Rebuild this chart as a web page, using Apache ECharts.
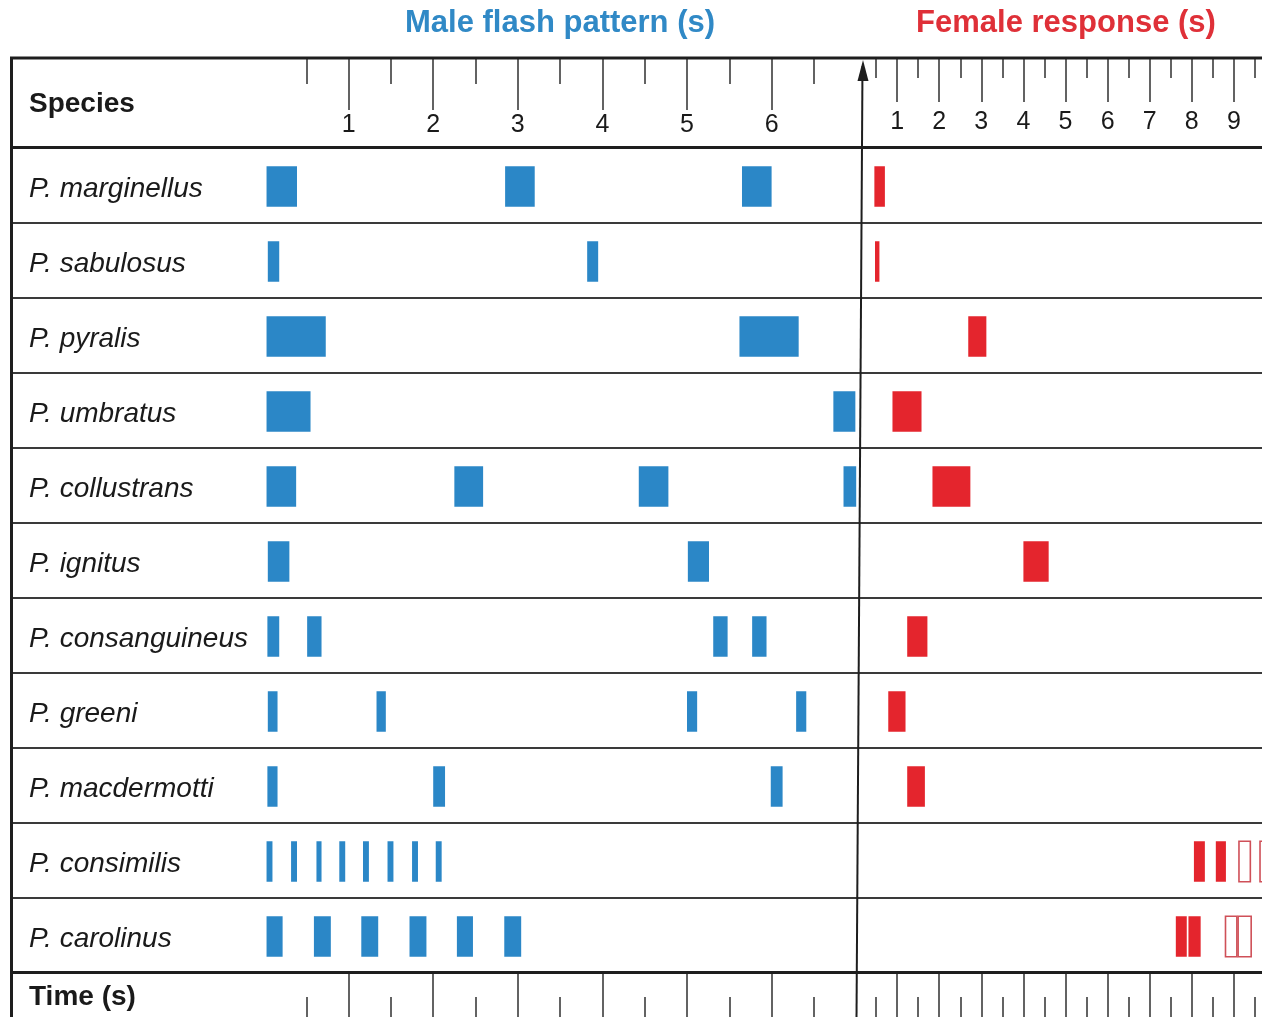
<!DOCTYPE html>
<html><head><meta charset="utf-8">
<script src="https://cdn.jsdelivr.net/npm/echarts@6/dist/echarts.min.js"></script>
<style>html,body{margin:0;padding:0;background:#fff}#c{width:1262px;height:1017px}</style>
</head><body><div id="c"></div>
<script>
// ---------- data (seconds) ----------
const species = ['P. marginellus','P. sabulosus','P. pyralis','P. umbratus','P. collustrans','P. ignitus','P. consanguineus','P. greeni','P. macdermotti','P. consimilis','P. carolinus'];

// male flashes: [species, start, end]
const maleFlashes = [
  ['P. marginellus',0.03,0.39],['P. marginellus',2.85,3.20],['P. marginellus',5.65,6.00],
  ['P. sabulosus',0.045,0.18],['P. sabulosus',3.82,3.95],
  ['P. pyralis',0.03,0.73],['P. pyralis',5.62,6.32],
  ['P. umbratus',0.03,0.55],['P. umbratus',6.73,6.99],
  ['P. collustrans',0.03,0.38],['P. collustrans',2.25,2.59],['P. collustrans',4.43,4.78],['P. collustrans',6.85,7.0],
  ['P. ignitus',0.045,0.30],['P. ignitus',5.01,5.26],
  ['P. consanguineus',0.04,0.18],['P. consanguineus',0.51,0.68],['P. consanguineus',5.31,5.48],['P. consanguineus',5.77,5.94],
  ['P. greeni',0.045,0.16],['P. greeni',1.33,1.44],['P. greeni',5.00,5.12],['P. greeni',6.29,6.41],
  ['P. macdermotti',0.04,0.16],['P. macdermotti',2.00,2.14],['P. macdermotti',5.99,6.13],
  ['P. consimilis',0.03,0.10],['P. consimilis',0.32,0.39],['P. consimilis',0.62,0.68],['P. consimilis',0.89,0.96],
  ['P. consimilis',1.17,1.24],['P. consimilis',1.46,1.53],['P. consimilis',1.75,1.82],['P. consimilis',2.03,2.10],
  ['P. carolinus',0.03,0.22],['P. carolinus',0.59,0.79],['P. carolinus',1.15,1.35],['P. carolinus',1.72,1.92],
  ['P. carolinus',2.28,2.47],['P. carolinus',2.84,3.04]
];

// female responses (solid)
const femaleFlashes = [
  ['P. marginellus',0.46,0.71],['P. sabulosus',0.475,0.58],['P. pyralis',2.69,3.12],
  ['P. umbratus',0.89,1.58],['P. collustrans',1.84,2.74],['P. ignitus',4.0,4.6],
  ['P. consanguineus',1.24,1.72],['P. greeni',0.79,1.20],['P. macdermotti',1.24,1.66],
  ['P. consimilis',8.05,8.31],['P. consimilis',8.57,8.81],
  ['P. carolinus',7.62,7.88],['P. carolinus',7.92,8.21]
];
// female responses (open)
const femaleOutline = [
  ['P. consimilis',9.12,9.39],['P. consimilis',9.62,9.90],
  ['P. carolinus',8.80,9.07],['P. carolinus',9.10,9.41]
];

const maleTickLabels = [1,2,3,4,5,6];
const maleHalfTicks = [0.5,1.5,2.5,3.5,4.5,5.5,6.5];
const femaleTickLabels = [1,2,3,4,5,6,7,8,9];
const femaleHalfTicks = [0.5,1.5,2.5,3.5,4.5,5.5,6.5,7.5,8.5,9.5];
const MALE_MAX = 7;
const FEMALE_MAX = 9.667;

// ---------- layout ----------
const FONT = 'Liberation Sans, Arial, Helvetica, sans-serif';
const BLUE = '#2b87c7', RED = '#e4252d', OUT = '#cf5058';
const M = {x:264, w:592.2}, F = {x:855, w:407};
const HEAD = {top:58, h:89.5}, BODY = {top:147.5, h:825}, FOOT = {top:972.5, h:44.5};

const grids = [
  {left:10, top:BODY.top, width:1252, height:BODY.h},          // 0 table rows
  {left:M.x, top:BODY.top, width:M.w, height:BODY.h},          // 1 male bars
  {left:F.x, top:BODY.top, width:F.w, height:BODY.h},          // 2 female bars
  {left:M.x, top:HEAD.top, width:M.w, height:HEAD.h},          // 3 male head major
  {left:M.x, top:HEAD.top, width:M.w, height:HEAD.h},          // 4 male head minor
  {left:F.x, top:HEAD.top, width:F.w, height:HEAD.h},          // 5 female head major
  {left:F.x, top:HEAD.top, width:F.w, height:HEAD.h},          // 6 female head minor
  {left:M.x, top:FOOT.top, width:M.w, height:FOOT.h},          // 7 male foot major
  {left:M.x, top:FOOT.top, width:M.w, height:FOOT.h},          // 8 male foot minor
  {left:F.x, top:FOOT.top, width:F.w, height:FOOT.h},          // 9 female foot major
  {left:F.x, top:FOOT.top, width:F.w, height:FOOT.h}           // 10 female foot minor
];

function hiddenX(gi, max){ return {gridIndex:gi, type:'value', min:0, max:max, show:false}; }
function tickX(gi, pos, max, ticks, len, labels, margin){
  return {
    gridIndex:gi, type:'value', position:pos, min:0, max:max,
    axisLine:{show:false, onZero:false}, splitLine:{show:false}, minorTick:{show:false},
    axisTick:{show:true, inside:true, length:len, customValues:ticks, lineStyle:{color:'#3c3c3c', width:1.6}},
    axisLabel: labels ? {show:true, inside:true, customValues:labels, margin:margin, fontSize:25, color:'#1a1a1a', fontFamily:FONT} : {show:false}
  };
}
const xAxes = [
  hiddenX(0, 1), hiddenX(1, MALE_MAX), hiddenX(2, FEMALE_MAX),
  tickX(3,'top',MALE_MAX,maleTickLabels,52,maleTickLabels,55),
  tickX(4,'top',MALE_MAX,maleHalfTicks,26,null),
  tickX(5,'top',FEMALE_MAX,femaleTickLabels,44,femaleTickLabels,52),
  tickX(6,'top',FEMALE_MAX,femaleHalfTicks,20,null),
  tickX(7,'bottom',MALE_MAX,maleTickLabels,45,null),
  tickX(8,'bottom',MALE_MAX,maleHalfTicks,20,null),
  tickX(9,'bottom',FEMALE_MAX,femaleTickLabels,45,null),
  tickX(10,'bottom',FEMALE_MAX,femaleHalfTicks,20,null)
];
const yAxes = [
  {gridIndex:0, type:'category', data:species, inverse:true,
   axisLine:{show:false}, axisTick:{show:false}, axisLabel:{show:false},
   splitLine:{show:true, interval:0, lineStyle:{color:'#3a3a3a', width:2.2}}},
  {gridIndex:1, type:'category', data:species, inverse:true,
   axisLine:{show:false}, axisTick:{show:false}, splitLine:{show:false},
   axisLabel:{show:true, interval:0, align:'left', margin:M.x-29,
     formatter:'{s|{value}}',
     rich:{s:{fontSize:28, fontStyle:'italic', color:'#1a1a1a', fontFamily:FONT, padding:[8,0,0,0]}}}},
  {gridIndex:2, type:'category', data:species, inverse:true, show:false}
];
for (let i = 3; i < grids.length; i++) yAxes.push({gridIndex:i, type:'value', show:false});

function flashRenderer(color, open){
  return function(params, api){
    const cat = api.value(0);
    const p0 = api.coord([api.value(1), cat]);
    const p1 = api.coord([api.value(2), cat]);
    const h = api.size([0,1])[1]*0.54;
    const cs = params.coordSys;
    const r = echarts.graphic.clipRectByRect(
      {x:p0[0], y:p0[1]-h/2+1.5, width:p1[0]-p0[0], height:h},
      {x:cs.x, y:cs.y, width:cs.width+2, height:cs.height});
    if (!r) return;
    return {type:'rect', shape:r,
      style: open ? {fill:'#fff', stroke:color, lineWidth:1.6} : {fill:color}};
  };
}

const series = [
  {type:'custom', xAxisIndex:1, yAxisIndex:1, data:maleFlashes, encode:{x:[1,2], y:0}, renderItem:flashRenderer(BLUE,false)},
  {type:'custom', xAxisIndex:2, yAxisIndex:2, data:femaleFlashes, encode:{x:[1,2], y:0}, renderItem:flashRenderer(RED,false)},
  {type:'custom', xAxisIndex:2, yAxisIndex:2, data:femaleOutline, encode:{x:[1,2], y:0}, renderItem:flashRenderer(OUT,true)}
];

const LINE = '#1e1e1e';
const graphic = [
  {type:'text', style:{text:'Male flash pattern (s)', x:560, y:23, align:'center', verticalAlign:'middle', fontSize:31, fontWeight:'bold', fill:'#3089c6', fontFamily:FONT}},
  {type:'text', style:{text:'Female response (s)', x:1066, y:23, align:'center', verticalAlign:'middle', fontSize:31, fontWeight:'bold', fill:'#df3038', fontFamily:FONT}},
  {type:'text', style:{text:'Species', x:29, y:104, verticalAlign:'middle', fontSize:28, fontWeight:'bold', fill:'#1a1a1a', fontFamily:FONT}},
  {type:'text', style:{text:'Time (s)', x:29, y:997, verticalAlign:'middle', fontSize:28, fontWeight:'bold', fill:'#1a1a1a', fontFamily:FONT}},
  {type:'line', z:50, shape:{x1:10, y1:58, x2:1262, y2:58}, style:{stroke:LINE, lineWidth:3}},
  {type:'line', z:50, shape:{x1:10, y1:147.5, x2:1262, y2:147.5}, style:{stroke:LINE, lineWidth:3}},
  {type:'line', z:50, shape:{x1:10, y1:972.5, x2:1262, y2:972.5}, style:{stroke:LINE, lineWidth:3}},
  {type:'line', z:50, shape:{x1:11.5, y1:57, x2:11.5, y2:1017}, style:{stroke:LINE, lineWidth:3}},
  {type:'line', z:50, shape:{x1:862.5, y1:66, x2:856.5, y2:1017}, style:{stroke:LINE, lineWidth:2}},
  {type:'polygon', z:50, shape:{points:[[863,60],[857.5,81],[868.5,81]]}, style:{fill:LINE}}
];

const chart = echarts.init(document.getElementById('c'), null, {renderer:'canvas'});
chart.setOption({
  animation:false, backgroundColor:'#fff',
  grid:grids, xAxis:xAxes, yAxis:yAxes, series:series, graphic:graphic
});
</script></body></html>
